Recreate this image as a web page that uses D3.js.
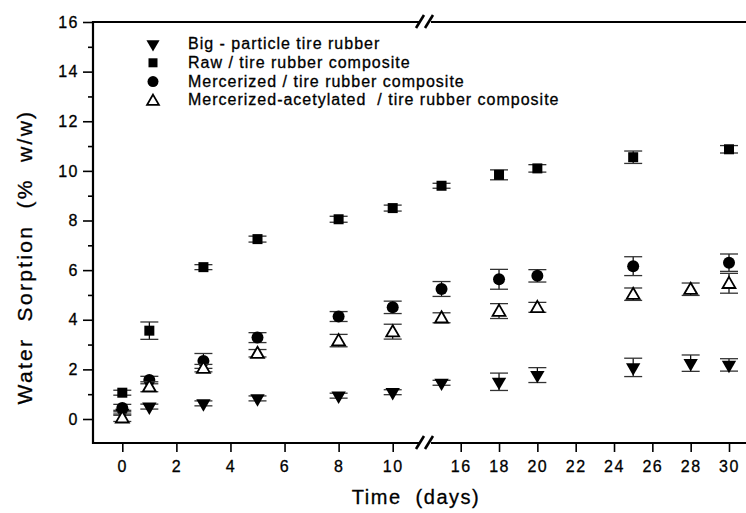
<!DOCTYPE html>
<html>
<head>
<meta charset="utf-8">
<script src="https://cdn.jsdelivr.net/npm/d3@7"></script>
<style>
  body { margin: 0; background: #fff; }
  svg { font-family: "Liberation Sans", Arial, sans-serif; }
  svg text { white-space: pre; }
  .tick text { font-size: 16px; letter-spacing: 1.5px; fill: #000; stroke: #000; stroke-width: 0.3px; }
  .tick line { stroke: #000; stroke-width: 1.6; }
</style>
</head>
<body>
<div class="d3-wrapper"></div>
<script>
const WIDTH = 746, HEIGHT = 513;

// data
const days = [0, 1, 3, 5, 8, 10, 15, 18, 20, 25, 28, 30];
const seriesNames = [
  'Big - particle tire rubber',
  'Raw / tire rubber composite',
  'Mercerized / tire rubber composite',
  'Mercerized-acetylated  / tire rubber composite'
];
const bigParticle = [0.25, 0.5, 0.63, 0.83, 0.94, 1.08, 1.46, 1.5, 1.77, 2.08, 2.25, 2.18];
const bigParticleErr = [0.1, 0.1, 0.1, 0.1, 0.1, 0.1, 0.1, 0.35, 0.3, 0.37, 0.33, 0.25];
const rawDays = [0, 1, 3, 5, 8, 10, 15, 18, 20, 25, 30];
const raw = [1.06, 3.56, 6.12, 7.25, 8.05, 8.5, 9.4, 9.84, 10.1, 10.55, 10.87];
const rawErr = [0.1, 0.35, 0.1, 0.12, 0.12, 0.12, 0.1, 0.2, 0.15, 0.25, 0.15];
const mercDays = [0, 1, 3, 5, 8, 10, 15, 18, 20, 25, 30];
const merc = [0.44, 1.57, 2.34, 3.28, 4.13, 4.5, 5.24, 5.63, 5.77, 6.16, 6.3];
const mercErr = [0.15, 0.15, 0.3, 0.2, 0.2, 0.25, 0.3, 0.4, 0.25, 0.38, 0.35];
const acet = [0.05, 1.3, 2.05, 2.65, 3.16, 3.52, 4.08, 4.35, 4.5, 5.03, 5.23, 5.47];
const acetErr = [0.15, 0.2, 0.15, 0.15, 0.25, 0.3, 0.2, 0.3, 0.2, 0.25, 0.25, 0.4];
const yTicks = [0, 2, 4, 6, 8, 10, 12, 14, 16];
const yMinor = [-1, 1, 3, 5, 7, 9, 11, 13, 15];
const xTicksA = [0, 2, 4, 6, 8, 10];
const xTicksB = [16, 18, 20, 22, 24, 26, 28, 30];

// broken x axis: two pieces
const xA = d3.scaleLinear().domain([0, 10]).range([122.3, 392.7]);
const xB = d3.scaleLinear().domain([16, 30]).range([460.7, 729]);
const x = d => d <= 12 ? xA(d) : xB(d);
const y = d3.scaleLinear().domain([0, 16]).range([419, 22]);

const LEFT = 93, RIGHT = 746, TOP = y(16), BOTTOM = 443, BREAK = 420;

const svg = d3.select('.d3-wrapper').append('svg')
  .attr('width', WIDTH)
  .attr('height', HEIGHT);

// y axis
const yAxis = svg.append('g')
  .attr('transform', `translate(${LEFT},0)`)
  .call(d3.axisLeft(y).tickValues(yTicks).tickSize(10).tickPadding(4));
yAxis.select('.domain').remove();
svg.append('g')
  .attr('transform', `translate(${LEFT},0)`)
  .call(d3.axisLeft(y).tickValues(yMinor.filter(v => y(v) < BOTTOM)).tickSize(5).tickFormat(''))
  .select('.domain').remove();

// x axis pieces
[[xA, xTicksA], [xB, xTicksB]].forEach(([sc, tv]) => {
  const g = svg.append('g')
    .attr('transform', `translate(0,${BOTTOM})`)
    .call(d3.axisBottom(sc).tickValues(tv).tickSize(9).tickPadding(9));
  g.select('.domain').remove();
});

// frame lines with break
const frame = svg.append('g').attr('stroke', '#000').attr('stroke-width', 2.2);
frame.append('line').attr('x1', LEFT).attr('x2', LEFT).attr('y1', TOP - 1).attr('y2', BOTTOM + 1);
[TOP, BOTTOM].forEach(yy => {
  frame.append('line').attr('x1', LEFT).attr('x2', BREAK).attr('y1', yy).attr('y2', yy);
  frame.append('line').attr('x1', BREAK + 11).attr('x2', RIGHT).attr('y1', yy).attr('y2', yy);
  [BREAK - 4, BREAK + 5].forEach(bx => {
    frame.append('line')
      .attr('x1', bx).attr('y1', yy + 6)
      .attr('x2', bx + 8).attr('y2', yy - 7)
      .attr('stroke-width', 2.6);
  });
});

// markers
const symTri = d3.symbol().type(d3.symbolTriangle);
function drawMarker(g, kind, cx, cy, s) {
  if (kind === 'square') {
    g.append('rect').attr('x', cx - s / 2).attr('y', cy - s / 2)
      .attr('width', s).attr('height', s).attr('fill', '#000');
  } else if (kind === 'circle') {
    g.append('circle').attr('cx', cx).attr('cy', cy).attr('r', s / 2).attr('fill', '#000');
  } else if (kind === 'down') {
    g.append('path').attr('d', symTri.size(s * s * 0.62)())
      .attr('transform', `translate(${cx},${cy}) rotate(180)`).attr('fill', '#000');
  } else {
    g.append('path').attr('d', symTri.size(s * s * 0.5)())
      .attr('transform', `translate(${cx},${cy + 1})`)
      .attr('fill', '#fff').attr('stroke', '#000').attr('stroke-width', 1.8);
  }
}

const series = [
  { kind: 'down', xs: days, vals: bigParticle, errs: bigParticleErr },
  { kind: 'square', xs: rawDays, vals: raw, errs: rawErr },
  { kind: 'circle', xs: mercDays, vals: merc, errs: mercErr },
  { kind: 'up', xs: days, vals: acet, errs: acetErr }
];

const plot = svg.append('g');
series.forEach(s => {
  const g = plot.append('g');
  s.vals.forEach((v, i) => {
    const cx = x(s.xs[i]), e = s.errs[i];
    g.append('line').attr('x1', cx).attr('x2', cx)
      .attr('y1', y(v - e)).attr('y2', y(v + e))
      .attr('stroke', '#000').attr('stroke-width', 1.2);
    [v - e, v + e].forEach(ev => {
      g.append('line').attr('x1', cx - 9).attr('x2', cx + 9)
        .attr('y1', y(ev)).attr('y2', y(ev))
        .attr('stroke', '#333').attr('stroke-width', 1.3);
    });
  });
  s.vals.forEach((v, i) => drawMarker(g, s.kind, x(s.xs[i]), y(v), s.kind === 'square' ? 10 : 12));
});

// legend
const legend = svg.append('g');
series.forEach((s, i) => {
  const ly = 44 + i * 18.8;
  drawMarker(legend, s.kind, 153, ly, s.kind === 'square' ? 9 : 11);
  legend.append('text')
    .attr('x', 188).attr('y', ly + 5)
    .attr('font-size', 16)
    .attr('letter-spacing', 1)
    .attr('stroke', '#000').attr('stroke-width', 0.3)
    .text(seriesNames[i]);
});

// axis titles
svg.append('text')
  .attr('x', 416).attr('y', 504)
  .attr('text-anchor', 'middle')
  .attr('font-size', 20)
  .attr('letter-spacing', 1.5)
  .attr('stroke', '#000').attr('stroke-width', 0.3)
  .text('Time  (days)');

svg.append('text')
  .attr('transform', 'translate(32,257) rotate(-90)')
  .attr('text-anchor', 'middle')
  .attr('font-size', 21)
  .attr('letter-spacing', 2.3)
  .attr('stroke', '#000').attr('stroke-width', 0.3)
  .text('Water  Sorption  (%  w/w)');
</script>
</body>
</html>
